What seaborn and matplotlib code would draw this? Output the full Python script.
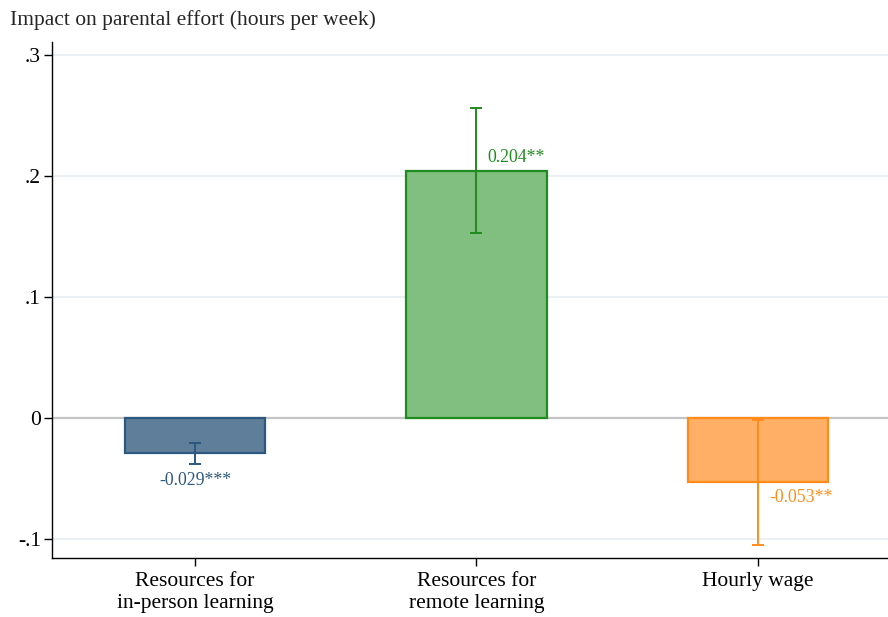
import matplotlib
matplotlib.use("Agg")
import matplotlib.pyplot as plt
import seaborn as sns
import pandas as pd

# Estimated effects with 95% confidence bounds
categories = ["Resources for\nin-person learning", "Resources for\nremote learning", "Hourly wage"]
estimates = [-0.029, 0.204, -0.053]
ci_low = [-0.038, 0.153, -0.105]
ci_high = [-0.021, 0.256, -0.002]
stars = ["***", "**", "**"]

yticks = [-0.1, 0.0, 0.1, 0.2, 0.3]
ytick_labels = ["-.1", "0", ".1", ".2", ".3"]

fill_colors = ["#5f7e9a", "#80bf80", "#ffb066"]
line_colors = ["#2c5880", "#1f8c1f", "#ff8c1a"]

sns.set_theme(style="white")
plt.rcParams["font.family"] = ["Liberation Serif", "DejaVu Serif"]

df = pd.DataFrame({"category": categories, "estimate": estimates})

fig = plt.figure(figsize=(8.88, 6.17), dpi=100)
ax = fig.add_axes([52 / 888, 1 - 558 / 617, 1 - 52 / 888, (558 - 42) / 617])

# Horizontal grid and zero reference line
for y in yticks:
    if y == 0:
        ax.axhline(0, color="#c4c4c4", lw=1.6, zorder=1)
    else:
        ax.axhline(y, color="#eaf0f3", lw=1.4, zorder=0)

sns.barplot(data=df, x="category", y="estimate", hue="category",
            palette=fill_colors, legend=False, width=0.5, ax=ax,
            saturation=1, zorder=2)

for patch, fc, ec in zip(ax.patches, fill_colors, line_colors):
    patch.set_facecolor(fc)
    patch.set_edgecolor(ec)
    patch.set_linewidth(1.6)

for i, (est, lo, hi, ec) in enumerate(zip(estimates, ci_low, ci_high, line_colors)):
    ax.errorbar(i, est, yerr=[[est - lo], [hi - est]], fmt="none",
                ecolor=ec, elinewidth=1.4, capsize=4, capthick=1.4, zorder=3)

# Value labels with significance stars
lbl = [f"{v:.3f}{s}" for v, s in zip(estimates, stars)]
ax.text(0, ci_low[0] - 0.007, lbl[0], color=line_colors[0], fontsize=12.8,
        ha="center", va="top")
ax.text(1 + 0.04, estimates[1] + 0.004, lbl[1], color=line_colors[1], fontsize=12.8,
        ha="left", va="bottom")
ax.text(2 + 0.04, estimates[2] - 0.006, lbl[2], color=line_colors[2], fontsize=12.8,
        ha="left", va="top")

ax.set_xlim(-0.508, 2.462)
ax.set_ylim(-0.1157, 0.3107)
ax.set_yticks(yticks)
ax.set_yticklabels(ytick_labels)
ax.set_xlabel("")
ax.set_ylabel("")

for side in ["top", "right"]:
    ax.spines[side].set_visible(False)
for side in ["left", "bottom"]:
    ax.spines[side].set_color("black")
    ax.spines[side].set_linewidth(1.0)

ax.tick_params(axis="both", which="both", direction="out", length=6, width=1.0,
               bottom=True, left=True, color="black", labelsize=15.5,
               labelcolor="black")
ax.tick_params(axis="y", pad=2)
ax.tick_params(axis="x", pad=4)
for t in ax.get_xticklabels():
    t.set_linespacing(1.25)

fig.text(10 / 888, 1 - 20 / 617, "Impact on parental effort (hours per week)",
         fontsize=15.5, ha="left", va="center")

fig.savefig("out.png", dpi=100)
